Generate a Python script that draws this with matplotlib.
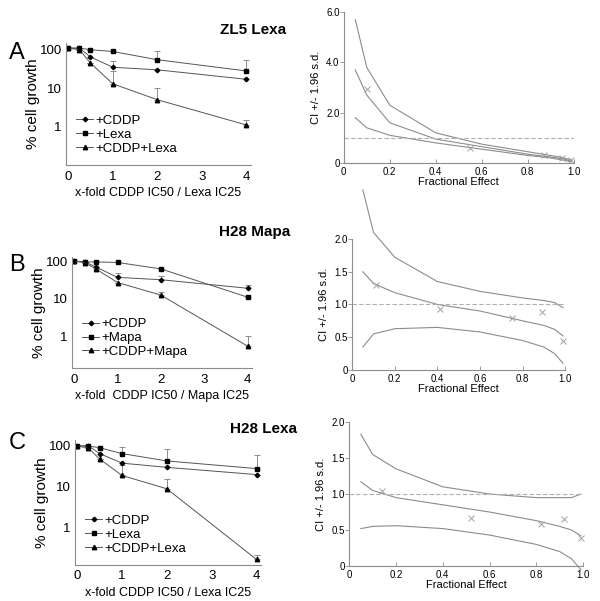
import numpy as np
import matplotlib
matplotlib.use("Agg")
import matplotlib.pyplot as plt

# * - - - Dose-response data (x = multiples of IC50 / IC25)
dose = [0, 0.25, 0.5, 1, 2, 4]

# ZL5 Lexa
a_cddp = [110, 110, 65, 35, 30, 17]
a_drug = [110, 110, 100, 90, 55, 28]
a_combo = [110, 100, 45, 13, 5, 1.1]
a_cddp_top = [110, 110, 65, 50, 30, 17]
a_drug_top = [110, 110, 100, 90, 90, 55]
a_combo_top = [110, 100, 45, 28, 10, 1.5]

# H28 Mapa
b_cddp = [100, 95, 70, 37, 32, 19]
b_drug = [100, 95, 95, 92, 62, 11]
b_combo = [100, 90, 62, 27, 12.5, 0.55]
b_cddp_top = [100, 95, 70, 48, 40, 23]
b_drug_top = [100, 95, 95, 92, 62, 11]
b_combo_top = [100, 90, 62, 27, 15, 1.0]

# H28 Lexa
c_cddp = [100, 100, 65, 38, 30, 20]
c_drug = [100, 100, 90, 65, 43, 28]
c_combo = [100, 88, 48, 19, 9, 0.17]
c_cddp_top = [100, 100, 65, 38, 30, 20]
c_drug_top = [100, 100, 90, 95, 85, 60]
c_combo_top = [100, 88, 48, 35, 16, 0.22]

# * - - - Combination index curves (fractional effect vs CI)
fa_grid = [0.05, 0.1, 0.2, 0.4, 0.6, 0.8, 0.9, 0.95, 0.99]
a_upper = [5.7, 3.8, 2.3, 1.2, 0.75, 0.45, 0.3, 0.22, 0.12]
a_mid = [3.7, 2.7, 1.6, 0.95, 0.65, 0.35, 0.24, 0.17, 0.08]
a_lower = [1.8, 1.4, 1.1, 0.8, 0.55, 0.3, 0.2, 0.12, 0.05]
a_fa = [0.1, 0.55, 0.87, 0.95, 0.99]
a_ci = [2.95, 0.6, 0.3, 0.2, 0.1]

b_upper = [2.75, 2.1, 1.72, 1.35, 1.2, 1.1, 1.06, 1.03, 0.95]
b_mid = [1.5, 1.32, 1.18, 1.0, 0.9, 0.75, 0.68, 0.62, 0.52]
b_lower = [0.35, 0.55, 0.63, 0.65, 0.58, 0.45, 0.35, 0.25, 0.1]
b_fa = [0.11, 0.41, 0.75, 0.89, 0.99]
b_ci = [1.3, 0.93, 0.79, 0.89, 0.44]

c_upper = [1.83, 1.55, 1.35, 1.1, 1.0, 0.95, 0.95, 0.95, 1.0]
c_mid = [1.17, 1.05, 0.95, 0.85, 0.75, 0.63, 0.55, 0.5, 0.42]
c_lower = [0.52, 0.55, 0.56, 0.52, 0.43, 0.3, 0.2, 0.1, -0.05]
c_fa = [0.14, 0.52, 0.82, 0.92, 0.99]
c_ci = [1.04, 0.67, 0.58, 0.65, 0.39]

plt.rcParams["font.family"] = ["Liberation Sans", "DejaVu Sans"]
fig = plt.figure(figsize=(6.0, 6.01), dpi=100)

GRAY = "#8c8c8c"
LINE = "#555555"


def dose_panel(rect, cddp, drug, combo, tops, drug_name, xlabel, ylim):
    ax = fig.add_axes(rect)
    series = [(cddp, "D", 2.3, "+CDDP"), (drug, "s", 2.8, "+" + drug_name),
              (combo, "^", 3.2, "+CDDP+" + drug_name)]
    for (vals, mk, ms, lab), top in zip(series, tops):
        up = np.array(top) - np.array(vals)
        ax.errorbar(dose, vals, yerr=[np.zeros(len(vals)), up], color=LINE,
                    ecolor=GRAY, elinewidth=0.7, capsize=2.5, capthick=0.7,
                    lw=0.7, marker=mk, ms=ms, mfc="black", mec="black", label=lab)
    ax.set_yscale("log")
    ax.set_ylim(*ylim)
    ax.set_xlim(-0.05, 4.1)
    ax.set_yticks([1, 10, 100])
    ax.set_yticklabels(["1", "10", "100"])
    ax.minorticks_off()
    ax.set_xticks([0, 1, 2, 3, 4])
    ax.tick_params(axis="y", length=0, labelsize=9.5, pad=3)
    ax.tick_params(axis="x", length=0, labelsize=9.5, pad=4)
    for s in ["top", "right"]:
        ax.spines[s].set_visible(False)
    for s in ["left", "bottom"]:
        ax.spines[s].set_color(GRAY)
        ax.spines[s].set_linewidth(0.8)
    ax.set_ylabel("% cell growth", fontsize=11, labelpad=0)
    ax.set_xlabel(xlabel, fontsize=9, labelpad=3)
    handles, labels = ax.get_legend_handles_labels()
    handles = [h[0] for h in handles]
    ax.legend(handles, labels, loc="lower left", bbox_to_anchor=(0.02, 0.03),
              frameon=False, fontsize=9.5, handlelength=1.3, handletextpad=0.15,
              borderpad=0, labelspacing=0.12)
    return ax


def ci_panel(rect, upper, mid, lower, fa, ci, ymax, yticks, yticklabels):
    ax = fig.add_axes(rect)
    for vals in (upper, mid, lower):
        ax.plot(fa_grid, vals, color=GRAY, lw=0.8, clip_on=False)
    ax.plot([0, 1], [1, 1], color="#b0b0b0", lw=0.8, ls=(0, (4, 2)))
    ax.plot(fa, ci, ls="none", marker="x", ms=5, mew=0.7, color="#a0a0a0",
            clip_on=False)
    ax.set_xlim(0, 1)
    ax.set_ylim(0, ymax)
    ax.set_xticks([0, 0.2, 0.4, 0.6, 0.8, 1.0])
    ax.set_xticklabels(["0", "0.2", "0.4", "0.6", "0.8", "1.0"])
    ax.set_yticks(yticks)
    ax.set_yticklabels(yticklabels)
    ax.tick_params(axis="x", direction="in", length=3, width=0.6, color=GRAY,
                   labelsize=7, pad=3)
    ax.tick_params(axis="y", direction="out", length=3, width=0.6, color=GRAY,
                   labelsize=7, pad=0)
    for s in ["top", "right"]:
        ax.spines[s].set_visible(False)
    for s in ["left", "bottom"]:
        ax.spines[s].set_color(GRAY)
        ax.spines[s].set_linewidth(0.8)
    ax.set_xlabel("Fractional Effect", fontsize=8, labelpad=0)
    ax.set_ylabel("CI +/- 1.96 s.d.", fontsize=8)
    return ax


# * - - - Left: dose response panels
dose_panel([0.11, 0.7255, 0.308, 0.203], a_cddp, a_drug, a_combo,
           [a_cddp_top, a_drug_top, a_combo_top], "Lexa",
           "x-fold CDDP IC50 / Lexa IC25", (0.1, 150))
dose_panel([0.12, 0.3877, 0.30, 0.185], b_cddp, b_drug, b_combo,
           [b_cddp_top, b_drug_top, b_combo_top], "Mapa",
           "x-fold  CDDP IC50 / Mapa IC25", (0.145, 130))
dose_panel([0.125, 0.06, 0.31, 0.208], c_cddp, c_drug, c_combo,
           [c_cddp_top, c_drug_top, c_combo_top], "Lexa",
           "x-fold CDDP IC50 / Lexa IC25", (0.125, 140))

# * - - - Right: combination index panels
ci_panel([0.573, 0.7288, 0.383, 0.251], a_upper, a_mid, a_lower, a_fa, a_ci,
         6.0, [0, 2, 4, 6], ["0", "2.0", "4.0", "6.0"])
ci_panel([0.587, 0.3844, 0.355, 0.218], b_upper, b_mid, b_lower, b_fa, b_ci,
         2.0, [0, 0.5, 1.0, 1.5, 2.0], ["0", "0.5", "1.0", "1.5", "2.0"])
ci_panel([0.582, 0.0582, 0.39, 0.2396], c_upper, c_mid, c_lower, c_fa, c_ci,
         2.0, [0, 0.5, 1.0, 1.5, 2.0], ["0", "0.5", "1.0", "1.5", "2.0"])

# * - - - Panel letters and titles
for letter, y in [("A", 53), ("B", 265), ("C", 443)]:
    fig.text(17 / 600, 1 - y / 601, letter, fontsize=17, ha="center", va="center")
for title, x, y in [("ZL5 Lexa", 253, 30), ("H28 Mapa", 255, 232), ("H28 Lexa", 263, 429)]:
    fig.text(x / 600, 1 - y / 601, title, fontsize=11, fontweight="bold",
             ha="center", va="center")

fig.savefig("out.png", dpi=100)
